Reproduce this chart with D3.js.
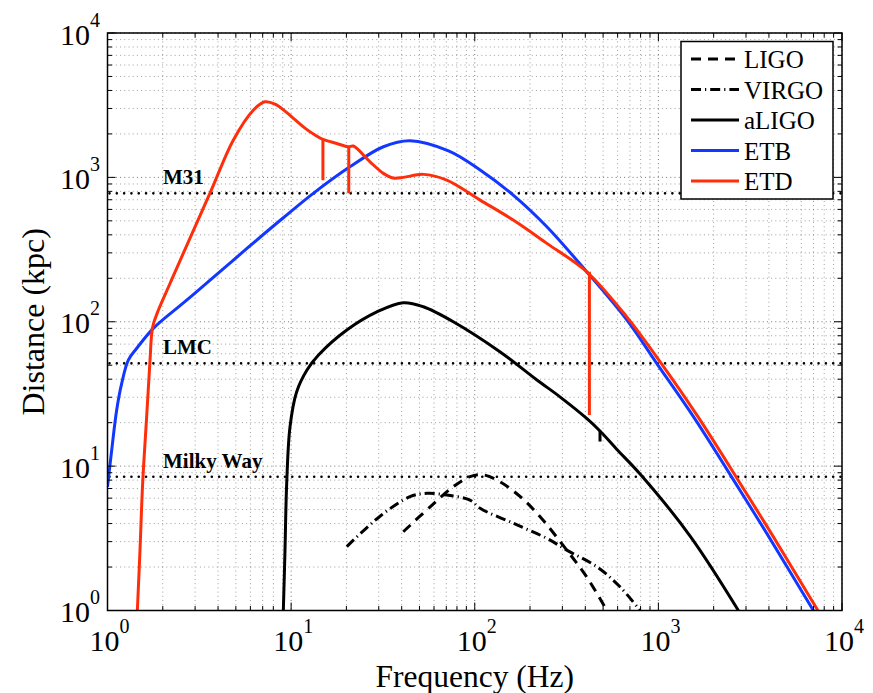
<!DOCTYPE html>
<html><head><meta charset="utf-8">
<script src="https://cdn.jsdelivr.net/npm/d3@7"></script>
<style>body{margin:0;background:#fff}svg{display:block}text{font-family:"Liberation Serif","Times New Roman",serif}</style>
</head><body><svg id="c" width="873" height="693" font-family="Liberation Serif"></svg>
<script>
// ---- data (frequency in Hz, distance in kpc) ----
const ligoF  = [40.8, 57.2, 76.4, 94.3, 111, 137, 177, 227, 317, 407, 524];
const ligoD  = [3.51, 5.23, 7.2, 8.45, 8.7, 7.8, 6.14, 4.46, 2.62, 1.71, 1.0];
const virgoF = [20.1, 30.5, 44.4, 54.8, 70.4, 94.3, 107, 162, 247, 317, 462, 618, 795];
const virgoD = [2.77, 4.5, 6.14, 6.48, 6.3, 5.82, 5.1, 4.02, 3.16, 2.62, 2.01, 1.46, 1.0];
const aligoF = [9.0, 9.07, 9.26, 9.46, 9.86, 10.7, 12.2, 14.1, 20.1, 29.3, 40.8, 52.5, 76.4, 137, 218, 291, 407, 481, 593, 795, 1489, 2728];
const aligoD = [0.8, 1.0, 2.62, 7.6, 18.7, 32.5, 46.3, 58.8, 87.6, 117, 135.5, 127, 100, 62, 39.5, 30.2, 21.4, 17.5, 13.1, 8.82, 3.28, 1.0];
const etbF = [1.0, 1.054, 1.122, 1.195, 1.298, 1.443, 1.777, 2.59, 3.62, 5.96, 9.07, 13.2, 20.9, 31.8, 44.4, 72, 107, 162, 247, 407, 673, 979, 1552, 2786, 3894, 6985];
const etbD = [7.2, 12.9, 24.5, 37.4, 54.3, 65.5, 90, 135, 194, 335, 525, 775, 1183, 1630, 1795, 1525, 1125, 754, 455, 222, 103, 51.5, 22, 6.78, 3.42, 1.0];
const etdF = [1.44, 1.454, 1.503, 1.554, 1.634, 1.704, 1.762, 1.891, 2.19, 2.64, 3.62, 4.84, 6.22, 7.2, 8.17, 9.26, 10.5, 11.9, 13.5, 14.9, 17.7, 20.5, 21.8, 26.9, 31.8, 36, 40.8, 52.5, 70.4, 107, 162, 247, 407, 673, 1036, 1642, 2948, 4120, 7390];
const etdD = [0.8, 1.0, 2.62, 7.6, 22, 54, 92, 120, 184, 316, 780, 1810, 2920, 3340, 3220, 2878, 2513, 2194, 1963, 1833, 1718, 1630, 1648, 1282, 1066, 990, 1000, 1049, 957, 696, 506, 349, 222, 108, 51.5, 22, 6.78, 3.42, 1.0];
// narrow dips (frequency, top, bottom)
const etdDipF = [14.9, 20.6, 421];
const etdDipTop = [1833, 1630, 222];
const etdDipBottom = [957, 775, 22.6];
const aligoDipF = [481];
const aligoDipTop = [17.5];
const aligoDipBottom = [14.8];
// reference distances
const refNames = ["M31", "LMC", "Milky Way"];
const refDist = [775, 51.5, 8.45];
// axes
const tickExps = [0, 1, 2, 3, 4];
const legendNames = ["LIGO", "VIRGO", "aLIGO", "ETB", "ETD"];

// ---- drawing ----
const FONT = "Liberation Serif";
const svg = d3.select("#c");
const L = 107.5, R = 842, T = 33, B = 610.5;
const x = d3.scaleLog().domain([1, 1e4]).range([L, R]);
const y = d3.scaleLog().domain([1, 1e4]).range([B, T]);

const blue = "#1238ff", red = "#ff2e0a";
const styles = {
  LIGO:  {color: "#000", dash: "10,7", w: 3},
  VIRGO: {color: "#000", dash: "10,4,1.2,4", w: 3},
  aLIGO: {color: "#000", dash: null, w: 3},
  ETB:   {color: blue, dash: null, w: 3},
  ETD:   {color: red, dash: null, w: 3}
};

svg.append("defs").append("clipPath").attr("id", "clip")
  .append("rect").attr("x", L).attr("y", T).attr("width", R - L).attr("height", B - T);

// grid
const gridVals = [];
tickExps.forEach(e => { for (let m = 1; m <= 9; m++) { const v = m * Math.pow(10, e); if (v <= 1e4) gridVals.push({v, major: m === 1}); } });
const grid = svg.append("g");
gridVals.forEach(g => {
  const op = g.major ? 0.55 : 0.38;
  grid.append("line").attr("x1", x(g.v)).attr("x2", x(g.v)).attr("y1", T).attr("y2", B)
    .attr("stroke", "#000").attr("stroke-opacity", op).attr("stroke-width", 1).attr("stroke-dasharray", "1,3.2");
  grid.append("line").attr("y1", y(g.v)).attr("y2", y(g.v)).attr("x1", L).attr("x2", R)
    .attr("stroke", "#000").attr("stroke-opacity", op).attr("stroke-width", 1).attr("stroke-dasharray", "1,3.2");
});

// reference lines
const refs = refNames.map((n, i) => ({name: n, d: refDist[i]}));
refs.forEach(r => {
  svg.append("line").attr("x1", L + 2).attr("x2", R).attr("y1", y(r.d)).attr("y2", y(r.d))
    .attr("stroke", "#000").attr("stroke-width", 2.6).attr("stroke-linecap", "round").attr("stroke-dasharray", "0.01,7.3");
  svg.append("text").attr("x", 163).attr("y", y(r.d) - 9).attr("font-family", FONT)
    .attr("font-size", 21).attr("font-weight", "bold").text(r.name);
});

// curves
const plot = svg.append("g").attr("clip-path", "url(#clip)");
const lineGen = d3.line().x(d => x(d[0])).y(d => y(d[1])).curve(d3.curveCatmullRom.alpha(0.5));
const series = [
  {name: "VIRGO", f: virgoF, d: virgoD},
  {name: "LIGO", f: ligoF, d: ligoD},
  {name: "aLIGO", f: aligoF, d: aligoD},
  {name: "ETB", f: etbF, d: etbD},
  {name: "ETD", f: etdF, d: etdD}
];
series.forEach(s => {
  const st = styles[s.name];
  plot.append("path").datum(s.f.map((f, i) => [f, s.d[i]]))
    .attr("d", lineGen).attr("fill", "none").attr("stroke", st.color).attr("stroke-width", st.w)
    .attr("stroke-dasharray", st.dash).attr("stroke-linejoin", "round");
});
etdDipF.forEach((f, i) => {
  plot.append("line").attr("x1", x(f)).attr("x2", x(f)).attr("y1", y(etdDipTop[i])).attr("y2", y(etdDipBottom[i]))
    .attr("stroke", red).attr("stroke-width", 3);
});
aligoDipF.forEach((f, i) => {
  plot.append("line").attr("x1", x(f)).attr("x2", x(f)).attr("y1", y(aligoDipTop[i])).attr("y2", y(aligoDipBottom[i]))
    .attr("stroke", "#000").attr("stroke-width", 3);
});

// axes box and inward ticks
const ax = svg.append("g");
ax.append("rect").attr("x", L).attr("y", T).attr("width", R - L).attr("height", B - T)
  .attr("fill", "none").attr("stroke", "#000").attr("stroke-width", 1.5);
gridVals.forEach(g => {
  const len = g.major ? 8 : 4.5;
  const xv = x(g.v), yv = y(g.v);
  ax.append("line").attr("x1", xv).attr("x2", xv).attr("y1", B).attr("y2", B - len).attr("stroke", "#000");
  ax.append("line").attr("x1", xv).attr("x2", xv).attr("y1", T).attr("y2", T + len).attr("stroke", "#000");
  ax.append("line").attr("y1", yv).attr("y2", yv).attr("x1", L).attr("x2", L + len).attr("stroke", "#000");
  ax.append("line").attr("y1", yv).attr("y2", yv).attr("x1", R).attr("x2", R - len).attr("stroke", "#000");
});

// tick labels
tickExps.forEach(e => {
  const v = Math.pow(10, e);
  const tx = svg.append("text").attr("x", x(v) + 2).attr("y", 651).attr("text-anchor", "middle")
    .attr("font-family", FONT).attr("font-size", 30);
  tx.append("tspan").text("10");
  tx.append("tspan").attr("dy", -18).attr("font-size", 20).text(String(e));
  const ty = svg.append("text").attr("x", 100).attr("y", y(v) + 11.5).attr("text-anchor", "end")
    .attr("font-family", FONT).attr("font-size", 30);
  ty.append("tspan").text("10");
  ty.append("tspan").attr("dy", -18).attr("font-size", 20).text(String(e));
});

// axis titles
svg.append("text").attr("x", (L + R) / 2).attr("y", 687).attr("text-anchor", "middle")
  .attr("font-family", FONT).attr("font-size", 31.5).text("Frequency (Hz)");
svg.append("text").attr("transform", `translate(44,${(T + B) / 2}) rotate(-90)`).attr("text-anchor", "middle")
  .attr("font-family", FONT).attr("font-size", 32).text("Distance (kpc)");

// legend
const lg = svg.append("g");
lg.append("rect").attr("x", 681).attr("y", 41.5).attr("width", 152).attr("height", 157.5)
  .attr("fill", "#fff").attr("stroke", "#000").attr("stroke-width", 1.5);
legendNames.forEach((n, i) => {
  const cy = 59 + i * 30.5;
  const st = styles[n];
  lg.append("line").attr("x1", 691).attr("x2", 739).attr("y1", cy).attr("y2", cy)
    .attr("stroke", st.color).attr("stroke-width", st.w).attr("stroke-dasharray", st.dash);
  lg.append("text").attr("x", 744).attr("y", cy + 9).attr("font-family", FONT).attr("font-size", 25).text(n);
});
</script></body></html>
